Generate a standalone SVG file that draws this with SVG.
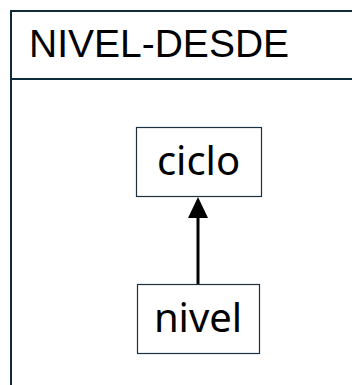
<svg xmlns="http://www.w3.org/2000/svg" width="352" height="385" viewBox="0 0 352 385">
<style>
.frame{fill:none;stroke:#0f2a3a;stroke-width:2}
.node rect{fill:#ffffff;stroke:#1d3040;stroke-width:1.2}
.node text{font-family:"Noto Sans","Open Sans",sans-serif;font-size:40px;fill:#000;text-anchor:middle}
.title{font-family:"Liberation Sans",Arial,sans-serif;font-size:39px;fill:#000}
</style>
<rect width="352" height="385" fill="#ffffff"/>
<g id="frame">
<path class="frame" d="M353,11 H11 V386"/>
<line class="frame" x1="11" y1="79" x2="353" y2="79"/>
<text class="title" x="29" y="57">NIVEL-DESDE</text>
</g>
<g id="connectors">
<line x1="198" y1="284" x2="198" y2="216" stroke="#000" stroke-width="3"/>
<polygon points="198,197 188,218 208,218" fill="#000"/>
</g>
<g id="ciclo" class="node">
<rect x="136.5" y="127.5" width="125" height="69"/>
<text x="198.5" y="175">ciclo</text>
</g>
<g id="nivel" class="node">
<rect x="137.5" y="284.5" width="122" height="69"/>
<text x="198" y="332">nivel</text>
</g>
</svg>
